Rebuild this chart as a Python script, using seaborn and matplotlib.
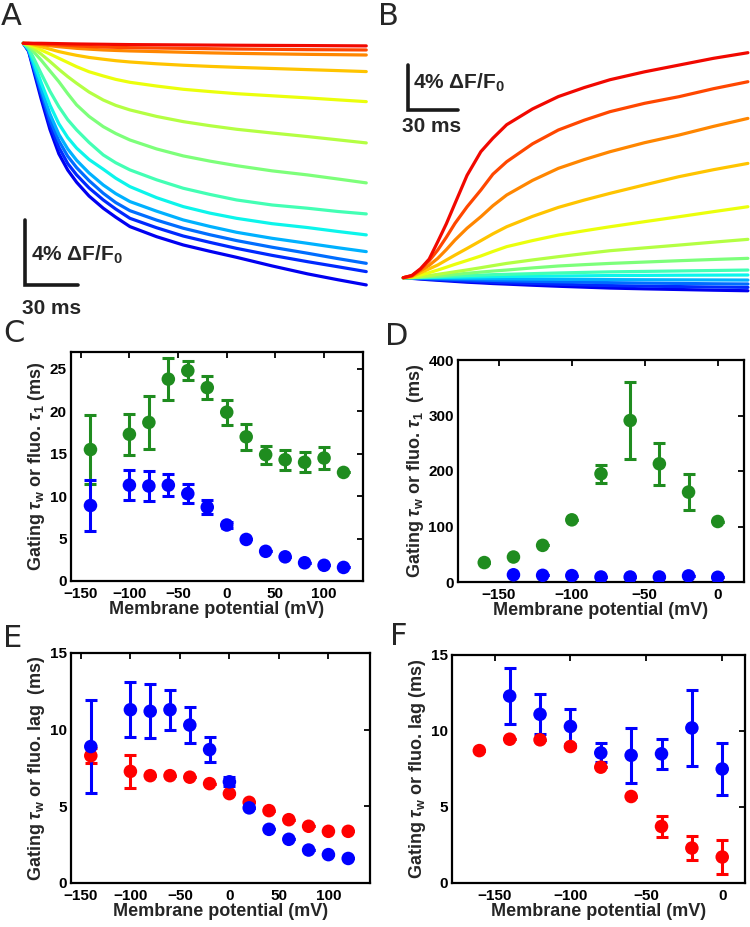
import numpy as np
import pandas as pd
import matplotlib
matplotlib.use('Agg')
import seaborn as sns
from matplotlib import pyplot as plt

# ---------------- data ----------------
# panel A: fluorescence traces (ms, % dF/F0), ordered red -> blue
t_a = [0, 3, 6, 10, 15, 20, 25, 30, 37, 45, 52, 60, 75, 90, 105, 120, 140, 160, 177, 193]
a01 = [0, 0, 0, 0, -0.01, -0.02, -0.03, -0.04, -0.05, -0.06, -0.07, -0.08, -0.09, -0.10,
       -0.11, -0.12, -0.13, -0.14, -0.15, -0.16]
a02 = [0, 0, -0.02, -0.04, -0.07, -0.10, -0.13, -0.16, -0.20, -0.23, -0.25, -0.27, -0.29,
       -0.31, -0.33, -0.35, -0.37, -0.39, -0.40, -0.41]
a03 = [0, -0.01, -0.04, -0.08, -0.15, -0.21, -0.26, -0.31, -0.36, -0.41, -0.44, -0.47, -0.51,
       -0.55, -0.59, -0.62, -0.65, -0.68, -0.70, -0.72]
a04 = [0, -0.03, -0.10, -0.21, -0.36, -0.51, -0.63, -0.74, -0.87, -0.98, -1.07, -1.15, -1.26,
       -1.35, -1.42, -1.48, -1.55, -1.62, -1.68, -1.74]
a05 = [0, -0.06, -0.20, -0.41, -0.66, -0.92, -1.18, -1.44, -1.75, -2.01, -2.22, -2.40, -2.63,
       -2.83, -2.97, -3.10, -3.23, -3.36, -3.48, -3.59]
a06 = [0, -0.12, -0.35, -0.66, -1.12, -1.60, -2.05, -2.46, -3.00, -3.49, -3.82, -4.10, -4.50,
       -4.82, -5.07, -5.29, -5.52, -5.74, -5.94, -6.13]
a07 = [0, -0.20, -0.55, -1.03, -1.70, -2.36, -3.10, -3.79, -4.50, -5.13, -5.55, -5.95, -6.50,
       -6.93, -7.25, -7.53, -7.85, -8.10, -8.35, -8.59]
a08 = [0, -0.30, -0.95, -1.85, -2.95, -3.90, -4.70, -5.33, -6.10, -6.87, -7.35, -7.79, -8.40,
       -8.92, -9.30, -9.64, -9.95, -10.15, -10.35, -10.50]
a09 = [0, -0.35, -1.20, -2.40, -3.80, -4.95, -5.80, -6.45, -7.15, -7.75, -8.30, -8.82, -9.50,
       -10.05, -10.45, -10.77, -11.10, -11.34, -11.58, -11.79]
a10 = [0, -0.40, -1.40, -2.75, -4.35, -5.60, -6.50, -7.20, -7.98, -8.72, -9.25, -9.74, -10.33,
       -10.87, -11.27, -11.63, -12.00, -12.31, -12.58, -12.82]
a11 = [0, -0.42, -1.50, -2.95, -4.70, -6.00, -6.95, -7.65, -8.45, -9.23, -9.80, -10.30, -10.88,
       -11.38, -11.78, -12.14, -12.55, -12.92, -13.25, -13.54]
a12 = [0, -0.45, -1.60, -3.15, -5.00, -6.40, -7.40, -8.10, -8.90, -9.64, -10.20, -10.77, -11.35,
       -11.86, -12.25, -12.62, -13.05, -13.44, -13.75, -14.05]
a13 = [0, -0.50, -1.75, -3.40, -5.30, -6.80, -7.80, -8.55, -9.40, -10.15, -10.70, -11.28, -11.90,
       -12.41, -12.80, -13.17, -13.70, -14.19, -14.55, -14.87]

# panel B: fluorescence traces (ms, % dF/F0), ordered red -> blue
t_b = [0, 5, 10, 15, 20, 25, 30, 37, 45, 52, 60, 75, 90, 105, 120, 140, 160, 180, 200]
b01 = [0, 0.20, 0.80, 1.65, 3.20, 4.80, 6.60, 9.10, 11.20, 12.40, 13.60, 15.00, 16.10, 16.90,
       17.60, 18.30, 18.90, 19.50, 20.00]
b02 = [0, 0.18, 0.74, 1.50, 2.46, 3.60, 4.83, 6.30, 7.79, 9.20, 10.31, 11.90, 13.13, 14.00,
       14.76, 15.50, 16.09, 16.80, 17.42]
b03 = [0, 0.15, 0.62, 1.10, 1.72, 2.50, 3.35, 4.40, 5.42, 6.40, 7.35, 8.65, 9.72, 10.50,
       11.20, 12.00, 12.68, 13.45, 14.16]
b04 = [0, 0.09, 0.44, 0.78, 1.13, 1.57, 2.01, 2.60, 3.29, 3.90, 4.53, 5.45, 6.25, 6.90,
       7.50, 8.25, 8.98, 9.60, 10.16]
b05 = [0, 0.06, 0.24, 0.45, 0.68, 0.93, 1.19, 1.53, 1.93, 2.33, 2.76, 3.30, 3.79, 4.17,
       4.53, 4.98, 5.42, 5.87, 6.31]
b06 = [0, 0.03, 0.09, 0.19, 0.30, 0.41, 0.53, 0.69, 0.89, 1.07, 1.27, 1.58, 1.87, 2.14,
       2.40, 2.65, 2.90, 3.16, 3.41]
b07 = [0, 0, 0.06, 0.10, 0.15, 0.22, 0.30, 0.39, 0.50, 0.59, 0.68, 0.87, 1.04, 1.16,
       1.27, 1.39, 1.51, 1.62, 1.72]
b08 = [0, 0, 0.03, 0.06, 0.09, 0.12, 0.15, 0.19, 0.23, 0.27, 0.30, 0.36, 0.42, 0.47,
       0.52, 0.56, 0.60, 0.64, 0.68]
b09 = [0, 0, 0.01, 0.02, 0.03, 0.04, 0.05, 0.065, 0.08, 0.095, 0.11, 0.13, 0.15, 0.17,
       0.19, 0.205, 0.22, 0.23, 0.24]
b10 = [0, 0, -0.01, -0.02, -0.03, -0.04, -0.05, -0.065, -0.08, -0.09, -0.10, -0.12, -0.14, -0.155,
       -0.17, -0.18, -0.19, -0.20, -0.21]
b11 = [0, -0.02, -0.05, -0.075, -0.10, -0.125, -0.15, -0.18, -0.21, -0.24, -0.27, -0.32, -0.36, -0.40,
       -0.44, -0.48, -0.51, -0.54, -0.56]
b12 = [0, -0.04, -0.09, -0.13, -0.17, -0.21, -0.25, -0.30, -0.35, -0.40, -0.44, -0.51, -0.58, -0.64,
       -0.70, -0.75, -0.79, -0.83, -0.86]
b13 = [0, -0.06, -0.12, -0.18, -0.23, -0.28, -0.33, -0.40, -0.46, -0.52, -0.57, -0.67, -0.76, -0.84,
       -0.92, -0.99, -1.05, -1.11, -1.16]

# panel C / E (mV)
v_ce = [-140, -100, -80, -60, -40, -20, 0, 20, 40, 60, 80, 100, 120]
c_fluo = [15.5, 17.3, 18.7, 23.8, 24.8, 22.8, 19.9, 17.0, 14.9, 14.3, 14.0, 14.5, 12.8]
c_fluo_err = [4.1, 2.4, 3.1, 2.5, 1.1, 1.4, 1.45, 1.5, 1.05, 1.2, 1.2, 1.3, 0]
gate_ce = [8.9, 11.3, 11.2, 11.3, 10.3, 8.7, 6.6, 4.9, 3.5, 2.85, 2.15, 1.85, 1.6]
gate_ce_err = [3.05, 1.8, 1.75, 1.3, 1.15, 0.8, 0.3, 0, 0, 0, 0, 0, 0]
e_lag = [8.3, 7.28, 7.0, 7.0, 6.9, 6.48, 5.83, 5.26, 4.72, 4.13, 3.7, 3.37, 3.37]
e_lag_err = [0.5, 1.08, 0, 0, 0, 0, 0, 0, 0, 0, 0, 0, 0]

# panel D / F (mV)
v_df = [-160, -140, -120, -100, -80, -60, -40, -20, 0]
d_fluo = [35, 45, 66, 112, 195, 291, 213, 162, 109]
d_fluo_err = [0, 0, 0, 0, 16, 69, 37.5, 33, 0]
v_gate_df = [-140, -120, -100, -80, -60, -40, -20, 0]
d_gate = [13, 12, 11.5, 9, 9, 9, 11, 8.5]
f_gate = [12.3, 11.1, 10.3, 8.56, 8.4, 8.5, 10.2, 7.5]
f_gate_err = [1.83, 1.33, 1.18, 0.63, 1.83, 1.0, 2.5, 1.74]
f_lag = [8.71, 9.46, 9.42, 8.98, 7.62, 5.69, 3.72, 2.3, 1.71]
f_lag_err = [0, 0, 0, 0, 0, 0, 0.71, 0.77, 1.15]

# ---------------- style ----------------
sns.set_theme(style='white')
plt.rcParams['font.family'] = ['Liberation Sans', 'DejaVu Sans']
plt.rcParams['font.weight'] = 'bold'
plt.rcParams['mathtext.fontset'] = 'custom'
plt.rcParams['mathtext.rm'] = 'Liberation Sans'
plt.rcParams['mathtext.it'] = 'Liberation Sans:italic'
plt.rcParams['mathtext.bf'] = 'Liberation Sans:bold'

GREEN = '#1f8c1f'
BLUE = '#0000ff'
RED = '#ff0000'
W, H = 750, 927

fig = plt.figure(figsize=(7.5, 9.27), dpi=100)


def px_axes(left, top, right, bottom):
    return fig.add_axes([left / W, 1 - bottom / H, (right - left) / W, (bottom - top) / H])


trace_colors = [plt.cm.jet(v) for v in np.linspace(0.9, 0.1, 13)]


def traces(ax, t, rows):
    df = pd.DataFrame({
        't': np.tile(t, len(rows)),
        'dF': np.concatenate(rows),
        'trace': np.repeat(np.arange(len(rows)), len(t)),
    })
    # draw blue first, red on top
    for k in range(len(rows) - 1, -1, -1):
        sns.lineplot(data=df[df['trace'] == k], x='t', y='dF', color=trace_colors[k],
                     lw=2.3, estimator=None, sort=False, ax=ax, legend=False)
    ax.axis('off')


# panel A
axA = px_axes(10, 35, 372, 310)
traces(axA, t_a, [a01, a02, a03, a04, a05, a06, a07, a08, a09, a10, a11, a12, a13])
axA.set_xlim((10 - 23.3) / 1.777, (372 - 23.3) / 1.777)
axA.set_ylim(-(310 - 43.3) / 16.25, -(35 - 43.3) / 16.25)
axA.plot([1, 1, 31], [-10.87, -14.87, -14.87], color='k', lw=2.6, solid_joinstyle='miter')
axA.text(4.6, -13.0, '4% ΔF/F$_\\mathbf{0}$', fontsize=15, fontweight='bold', va='center')
axA.text(-1.0, -15.75, '30 ms', fontsize=15, fontweight='bold', va='top')

# panel B
axB = px_axes(390, 40, 750, 300)
traces(axB, t_b, [b01, b02, b03, b04, b05, b06, b07, b08, b09, b10, b11, b12, b13])
axB.set_xlim((390 - 403.3) / 1.723, (750 - 403.3) / 1.723)
axB.set_ylim((277.7 - 300) / 11.25, (277.7 - 40) / 11.25)
axB.plot([2.9, 2.9, 32], [18.9, 14.9, 14.9], color='k', lw=2.6, solid_joinstyle='miter')
axB.text(5.8, 17.3, '4% ΔF/F$_\\mathbf{0}$', fontsize=15, fontweight='bold', va='center')
axB.text(-0.5, 14.3, '30 ms', fontsize=15, fontweight='bold', va='top')


def dots(ax, x, y, err, color):
    ax.errorbar(x, y, yerr=err, fmt='none', ecolor=color, elinewidth=2.2,
                capsize=4, capthick=2.2, zorder=2)
    sns.scatterplot(x=x, y=y, color=color, s=95, edgecolor='none', ax=ax, zorder=3)


def frame(ax, xlim, ylim, xticks, yticks, ylabel):
    ax.set_xlim(*xlim)
    ax.set_ylim(*ylim)
    ax.set_xticks(xticks)
    ax.set_yticks(yticks)
    for s in ax.spines.values():
        s.set_visible(True)
        s.set_linewidth(1.6)
        s.set_color('black')
    ax.tick_params(direction='in', top=True, right=True, length=4, width=1.3,
                   labelsize=11, colors='black')
    ax.tick_params(axis='x', pad=4)
    ax.tick_params(axis='y', pad=3)
    for lab in ax.get_xticklabels() + ax.get_yticklabels():
        lab.set_fontweight('bold')
    ax.set_xlabel('Membrane potential (mV)', fontsize=13, fontweight='bold', labelpad=0)
    ax.set_ylabel(ylabel, fontsize=13, fontweight='bold', labelpad=2)


# panel C
axC = px_axes(71, 352, 363, 581)
dots(axC, v_ce, c_fluo, c_fluo_err, GREEN)
dots(axC, v_ce, gate_ce, gate_ce_err, BLUE)
frame(axC, (-160, 140), (0, 27), [-150, -100, -50, 0, 50, 100], [0, 5, 10, 15, 20, 25],
      r'Gating $\tau_\mathrm{w}$ or fluo. $\tau_\mathrm{1}$ (ms)')

# panel D
axD = px_axes(458, 360, 744, 582)
dots(axD, v_df, d_fluo, d_fluo_err, GREEN)
dots(axD, v_gate_df, d_gate, [0] * len(d_gate), BLUE)
frame(axD, (-178, 18), (0, 400), [-150, -100, -50, 0], [0, 100, 200, 300, 400],
      r'Gating $\tau_\mathrm{w}$ or fluo. $\tau_\mathrm{1}$  (ms)')

# panel E
axE = px_axes(71, 653, 370, 883)
dots(axE, v_ce, e_lag, e_lag_err, RED)
dots(axE, v_ce, gate_ce, gate_ce_err, BLUE)
frame(axE, (-160, 142), (0, 15), [-150, -100, -50, 0, 50, 100], [0, 5, 10, 15],
      r'Gating $\tau_\mathrm{w}$ or fluo. lag  (ms)')

# panel F
axF = px_axes(452, 655, 745, 883)
dots(axF, v_df, f_lag, f_lag_err, RED)
dots(axF, v_gate_df, f_gate, f_gate_err, BLUE)
frame(axF, (-178, 15), (0, 15), [-150, -100, -50, 0], [0, 5, 10, 15],
      r'Gating $\tau_\mathrm{w}$ or fluo. lag (ms)')

# panel letters
for letter, x, y in [('A', 1, 25), ('B', 378, 25), ('C', 3, 342),
                     ('D', 385, 345), ('E', 3, 647), ('F', 390, 645)]:
    fig.text(x / W, 1 - y / H, letter, fontsize=22, family='DejaVu Sans',
             fontweight='normal', va='baseline', ha='left')

fig.savefig('out.png', dpi=100)
